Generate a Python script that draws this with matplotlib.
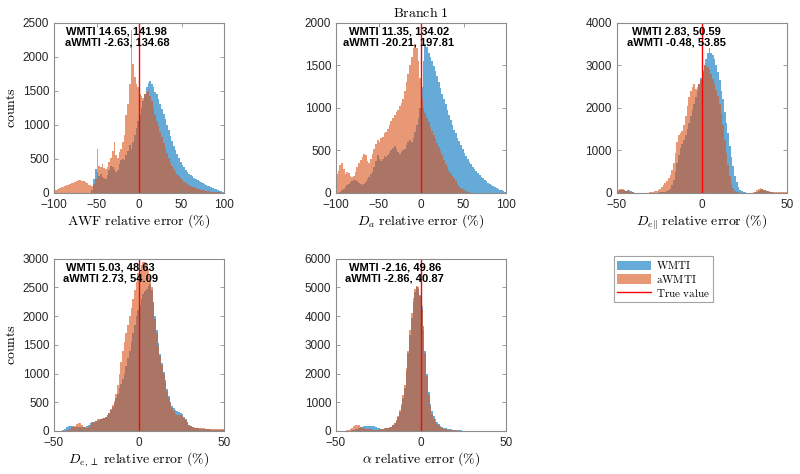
import numpy as np
import matplotlib
matplotlib.use('Agg')
import matplotlib.pyplot as plt
from matplotlib.patches import Patch
from matplotlib.lines import Line2D

# histogram counts (WMTI / aWMTI), 100 bins per panel
awf_wmti = [0, 0, 0, 0, 0, 0, 0, 0, 0, 0,
            0, 0, 0, 0, 0, 0, 0, 0, 0, 0,
            0, 0, 40, 200, 350, 300, 250, 280, 240, 220,
            200, 260, 330, 400, 380, 350, 300, 330, 420, 480,
            500, 480, 550, 620, 700, 650, 750, 850, 950, 1050,
            1150, 1250, 1350, 1450, 1550, 1620, 1650, 1600, 1550, 1480,
            1450, 1380, 1310, 1240, 1160, 1080, 1000, 920, 840, 760,
            690, 625, 565, 510, 460, 415, 375, 340, 310, 285,
            270, 245, 225, 205, 188, 172, 157, 143, 130, 118,
            106, 95, 84, 73, 63, 53, 43, 34, 25, 16]
awf_awmti = [40, 50, 60, 70, 80, 90, 100, 110, 120, 130,
             140, 150, 165, 175, 185, 190, 180, 170, 160, 150,
             120, 110, 100, 130, 200, 650, 400, 380, 420, 360,
             350, 380, 450, 520, 620, 750, 560, 520, 600, 650,
             750, 850, 1150, 1300, 1600, 2400, 1900, 1700, 1600, 1550,
             1450, 1420, 1400, 1450, 1480, 1500, 1420, 1350, 1250, 1150,
             1050, 980, 900, 820, 740, 660, 590, 520, 460, 400,
             350, 310, 275, 245, 215, 190, 165, 145, 128, 112,
             100, 90, 80, 72, 64, 57, 50, 44, 38, 33,
             28, 24, 20, 17, 14, 12, 10, 8, 6, 4]

da_wmti = [0, 0, 10, 30, 50, 70, 90, 110, 130, 145,
           150, 150, 140, 120, 100, 90, 100, 130, 160, 190,
           220, 250, 300, 380, 440, 400, 380, 400, 430, 420,
           440, 470, 500, 530, 550, 520, 480, 460, 480, 500,
           520, 560, 600, 620, 600, 650, 720, 800, 880, 1000,
           1250, 1550, 1750, 1720, 1650, 1600, 1550, 1490, 1430, 1370,
           1300, 1230, 1160, 1100, 1040, 980, 920, 860, 800, 745,
           700, 650, 605, 560, 515, 475, 435, 400, 365, 335,
           305, 280, 255, 232, 210, 190, 170, 152, 135, 120,
           105, 92, 80, 68, 57, 47, 38, 30, 22, 14]
da_awmti = [220, 260, 330, 350, 280, 220, 250, 230, 200, 190,
            200, 250, 310, 350, 390, 420, 460, 450, 380, 350,
            400, 460, 520, 580, 620, 600, 640, 660, 700, 720,
            750, 800, 840, 880, 920, 950, 980, 1020, 1060, 1100,
            1200, 1300, 1400, 1500, 1600, 1700, 1750, 1700, 1550, 1350,
            1100, 1000, 940, 880, 830, 780, 730, 680, 630, 590,
            540, 490, 440, 390, 345, 300, 260, 225, 195, 170,
            140, 110, 85, 60, 42, 28, 18, 10, 6, 3,
            2, 1, 0, 0, 0, 0, 0, 0, 0, 0,
            0, 0, 0, 0, 0, 0, 0, 0, 0, 0]

depar_wmti = [40, 60, 70, 70, 60, 50, 60, 70, 50, 20,
              5, 2, 0, 0, 0, 0, 0, 0, 0, 0,
              0, 0, 0, 2, 5, 10, 15, 20, 30, 45,
              60, 100, 180, 300, 480, 700, 900, 1050, 1150, 1250,
              1350, 1500, 1650, 1800, 1950, 2100, 2250, 2400, 2550, 2700,
              2850, 3000, 3150, 3300, 3400, 3300, 3250, 3150, 3000, 2850,
              2650, 2400, 2200, 1900, 1650, 1400, 1100, 850, 630, 400,
              250, 150, 80, 40, 20, 10, 5, 3, 2, 1,
              5, 10, 20, 40, 70, 90, 80, 60, 40, 25,
              15, 10, 8, 6, 5, 4, 3, 3, 2, 2]
depar_awmti = [60, 90, 100, 90, 70, 50, 40, 30, 15, 10,
               5, 3, 2, 2, 2, 3, 4, 5, 8, 12,
               18, 25, 35, 50, 70, 100, 140, 180, 230, 280,
               340, 420, 550, 700, 950, 1200, 1350, 1400, 1450, 1600,
               1800, 2050, 2250, 2400, 2500, 2550, 2450, 2500, 2550, 2650,
               2900, 3000, 2980, 2950, 2900, 2800, 2680, 2550, 2420, 2280,
               2100, 1850, 1600, 1250, 950, 650, 400, 230, 120, 50,
               20, 10, 5, 3, 2, 2, 2, 3, 5, 8,
               15, 30, 60, 100, 110, 100, 80, 60, 45, 35,
               30, 30, 28, 25, 22, 20, 18, 15, 12, 10]

deperp_wmti = [0, 0, 0, 0, 0, 10, 30, 60, 80, 90,
               90, 80, 70, 60, 60, 60, 60, 60, 70, 90,
               110, 130, 150, 160, 170, 180, 190, 200, 210, 225,
               240, 270, 310, 360, 420, 490, 570, 650, 740, 820,
               900, 1000, 1130, 1270, 1400, 1550, 1700, 1850, 2000, 2100,
               2200, 2300, 2380, 2430, 2480, 2530, 2560, 2450, 2250, 2000,
               1750, 1530, 1340, 1180, 1030, 880, 730, 610, 510, 440,
               390, 360, 340, 330, 320, 290, 250, 200, 150, 110,
               85, 65, 55, 48, 44, 40, 37, 34, 31, 28,
               26, 24, 22, 20, 18, 16, 14, 12, 10, 8]
deperp_awmti = [0, 0, 0, 0, 0, 0, 5, 10, 20, 40,
                60, 70, 90, 120, 140, 130, 100, 70, 50, 50,
                70, 100, 130, 160, 180, 200, 200, 210, 220, 230,
                250, 280, 320, 380, 450, 520, 650, 800, 1000, 1200,
                1400, 1550, 1700, 1850, 2000, 2150, 2300, 2450, 2600, 2750,
                2800, 2900, 2950, 2950, 2900, 2820, 2700, 2500, 2250, 1950,
                1700, 1480, 1300, 1150, 1000, 850, 700, 580, 480, 400,
                340, 300, 280, 270, 270, 260, 230, 190, 150, 110,
                85, 70, 60, 55, 50, 48, 46, 44, 42, 40,
                40, 40, 38, 36, 34, 32, 30, 28, 26, 24]

alpha_wmti = [0, 0, 0, 0, 0, 0, 0, 5, 10, 20,
              30, 50, 70, 100, 130, 150, 165, 175, 180, 180,
              175, 170, 160, 140, 110, 85, 75, 75, 80, 90,
              95, 115, 145, 190, 260, 350, 480, 660, 880, 1150,
              1500, 2100, 2700, 3350, 3950, 4500, 4850, 5000, 4950, 4750,
              4350, 3650, 2800, 2000, 1350, 950, 700, 520, 400, 300,
              230, 180, 140, 110, 90, 75, 60, 50, 40, 32,
              25, 20, 16, 13, 10, 8, 7, 6, 5, 4,
              4, 3, 3, 3, 2, 2, 2, 2, 2, 2,
              2, 2, 1, 1, 1, 1, 1, 1, 1, 1]
alpha_awmti = [0, 0, 0, 0, 0, 5, 15, 30, 60, 100,
               170, 210, 220, 190, 150, 110, 85, 70, 60, 55,
               50, 45, 40, 40, 45, 55, 65, 75, 85, 95,
               100, 120, 150, 200, 280, 380, 520, 720, 950, 1250,
               1600, 2200, 2800, 3500, 4100, 4650, 4950, 5050, 5000, 4700,
               4200, 3500, 2700, 1900, 1250, 850, 600, 430, 310, 230,
               200, 150, 110, 80, 60, 45, 35, 28, 22, 18,
               15, 12, 10, 9, 8, 7, 6, 5, 5, 4,
               4, 4, 3, 3, 3, 3, 3, 3, 2, 2,
               2, 2, 2, 2, 2, 2, 2, 2, 2, 2]

xlabels = [r'$\mathrm{AWF\ relative\ error\ (\%)}$',
           r'$D_a\ \mathrm{relative\ error\ (\%)}$',
           r'$D_{e\|}\ \mathrm{relative\ error\ (\%)}$',
           r'$D_{e,\perp}\ \mathrm{relative\ error\ (\%)}$',
           r'$\alpha\ \mathrm{relative\ error\ (\%)}$']
stats_wmti = ['WMTI 14.65, 141.98', 'WMTI 11.35, 134.02', 'WMTI 2.83, 50.59',
              'WMTI 5.03, 48.63', 'WMTI -2.16, 49.86']
stats_awmti = ['aWMTI -2.63, 134.68', 'aWMTI -20.21, 197.81', 'aWMTI -0.48, 53.85',
               'aWMTI 2.73, 54.09', 'aWMTI -2.86, 40.87']
xranges = [(-100, 100), (-100, 100), (-50, 50), (-50, 50), (-50, 50)]
ymax = [2500, 2000, 4000, 3000, 6000]
ystep = [500, 500, 1000, 500, 1000]

plt.rcParams['mathtext.fontset'] = 'cm'
plt.rcParams['font.family'] = ['Liberation Sans', 'DejaVu Sans']

blue = '#0072BD'
orange = '#D95319'
axcol = '#8c8c8c'

fig = plt.figure(figsize=(8, 4.74), dpi=100)
# axes boxes in figure fractions (left, bottom, width, height)
boxes = [(0.0675, 0.593, 0.2125, 0.359),
         (0.42, 0.593, 0.2125, 0.359),
         (0.771, 0.593, 0.2125, 0.359),
         (0.0675, 0.091, 0.2125, 0.363),
         (0.42, 0.091, 0.2125, 0.363)]
text_x = [0.37, 0.37, 0.35, 0.33, 0.345]

data = [(awf_wmti, awf_awmti), (da_wmti, da_awmti), (depar_wmti, depar_awmti),
        (deperp_wmti, deperp_awmti), (alpha_wmti, alpha_awmti)]

for i in range(5):
    ax = fig.add_axes(boxes[i])
    wm, awm = data[i]
    lo, hi = xranges[i]
    edges = np.linspace(lo, hi, len(wm) + 1)
    ax.stairs(wm, edges, fill=True, color=blue, alpha=0.6, linewidth=0)
    ax.stairs(awm, edges, fill=True, color=orange, alpha=0.6, linewidth=0)
    ax.axvline(0, color='red', lw=1)
    ax.set_xlim(lo, hi)
    ax.set_ylim(0, ymax[i])
    ax.set_yticks(np.arange(0, ymax[i] + 1, ystep[i]))
    ax.set_xticks(np.arange(lo, hi + 1, 50))
    ax.tick_params(direction='in', length=3, width=0.6, top=True, right=True,
                   color=axcol, labelcolor='#262626', labelsize=8.5)
    ax.tick_params(axis='x', pad=4.5)
    ax.tick_params(axis='y', pad=3.5)
    for s in ax.spines.values():
        s.set_color(axcol)
        s.set_linewidth(0.8)
    ax.set_xlabel(xlabels[i], fontsize=10, labelpad=1)
    if i in (0, 3):
        ax.set_ylabel(r'$\mathrm{counts}$', fontsize=10, labelpad=3)
    if i == 1:
        ax.set_title(r'$\mathrm{Branch\ 1}$', fontsize=10, pad=4)
    ax.text(text_x[i], 0.947, stats_wmti[i], transform=ax.transAxes, ha='center',
            va='center', fontsize=8, fontweight='bold', zorder=5)
    ax.text(text_x[i], 0.886, stats_awmti[i], transform=ax.transAxes, ha='center',
            va='center', fontsize=8, fontweight='bold', zorder=5)

handles = [Patch(facecolor=blue, alpha=0.6, linewidth=0),
           Patch(facecolor=orange, alpha=0.6, linewidth=0),
           Line2D([], [], color='red', lw=1)]
labels = [r'$\mathrm{WMTI}$', r'$\mathrm{aWMTI}$', r'$\mathrm{True\ value}$']
leg = fig.legend(handles, labels, loc='lower left', bbox_to_anchor=(0.7675, 0.363),
                 fontsize=8, frameon=True, fancybox=False, edgecolor=axcol,
                 borderpad=0.3, handlelength=3.0, handleheight=0.9,
                 labelspacing=0.15, handletextpad=0.5, borderaxespad=0)
leg.get_frame().set_linewidth(0.8)

fig.savefig('out.png', dpi=100)
